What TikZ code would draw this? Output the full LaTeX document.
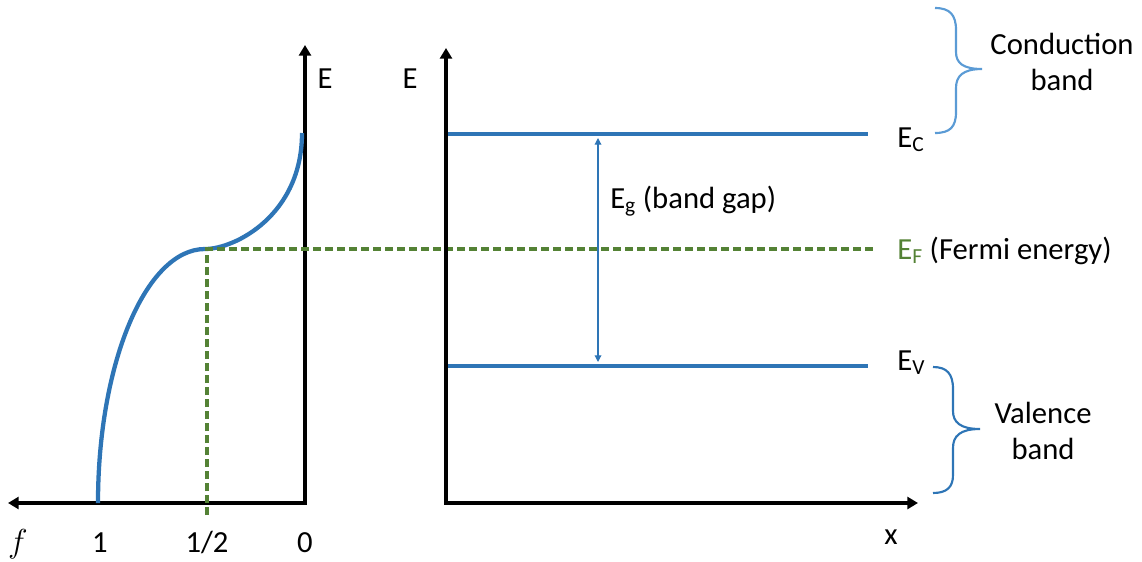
\documentclass[tikz,border=0pt]{standalone}
\usepackage{fontspec}
\setmainfont{Carlito}
\usetikzlibrary{arrows.meta}
\definecolor{bandblue}{HTML}{2E75B6}
\definecolor{braceblue}{HTML}{5B9BD5}
\definecolor{fermigreen}{HTML}{548235}

\begin{document}
\begin{tikzpicture}[x=0.75pt,y=-0.75pt,
	axis/.style={line width=3pt,{Triangle[length=8pt,width=9pt]}-{Triangle[length=8pt,width=9pt]}},
	band/.style={bandblue,line width=2.4pt},
	fermi/.style={fermigreen,line width=2.8pt,dash pattern=on 6pt off 3pt},
	gap/.style={bandblue,line width=0.9pt,{Triangle[length=5pt,width=5pt]}-{Triangle[length=5pt,width=5pt]}},
	lbl/.style={font=\fontsize{23}{27}\selectfont,inner sep=0pt}]
	\useasboundingbox (0,0) rectangle (1142,561);
	% left plot: occupation f(E)
	\coordinate (Etip1) at (305,45);
	\coordinate (O1) at (305,503);
	\coordinate (ftip) at (8,503);
	\coordinate (fone) at (98,503);
	\coordinate (fhalf) at (205,249);
	\coordinate (ftop) at (302,133);
	\coordinate (halfdown) at (207,515);
	\coordinate (halfup) at (207,249);
	\coordinate (EFend) at (875,249);
	\draw[axis] (Etip1) -- (O1) -- (ftip);
	\draw[bandblue,line width=3.2pt] (fone) .. controls (98,363) and (146,249) .. (fhalf)
		.. controls (235,249) and (302,215) .. (ftop);
	\draw[fermi] (halfdown) -- (halfup) -- (EFend);
	\node[lbl] (EL) at (325,79) {E};
	\node[lbl,anchor=base] (fl) at (18,552) {\fontsize{27}{30}\selectfont$f$};
	\node[lbl,anchor=base] (onel) at (100,552) {1};
	\node[lbl,anchor=base] (halfl) at (207,552) {1/2};
	\node[lbl,anchor=base] (zerol) at (305,552) {0};
	% right plot: bands
	\coordinate (Etip2) at (446,48);
	\coordinate (O2) at (446,503);
	\coordinate (xtip) at (918,503);
	\coordinate (EC0) at (448,134);
	\coordinate (EC1) at (868,134);
	\coordinate (EV0) at (448,366);
	\coordinate (EV1) at (868,366);
	\coordinate (gaptop) at (598,138);
	\coordinate (gapbot) at (598,362);
	\draw[axis] (Etip2) -- (O2) -- (xtip);
	\draw[band] (EC0) -- (EC1);
	\draw[band] (EV0) -- (EV1);
	\draw[gap] (gaptop) -- (gapbot);
	\node[lbl] (ER) at (410,79) {E};
	\node[lbl] (xl) at (891,537) {x};
	\node[lbl,anchor=base west] (Egl) at (610,208) {E\textsubscript{g} (band gap)};
	\node[lbl,anchor=base west] (ECl) at (897,147) {E\textsubscript{C}};
	\node[lbl,anchor=base west] (EVl) at (897,370) {E\textsubscript{V}};
	\node[lbl,anchor=base west] (EFl) at (897,259) {\textcolor{fermigreen}{E\textsubscript{F}} (Fermi energy)};
	% braces
	\draw[braceblue,line width=1.6pt] (935,8) .. controls (950,8) and (956,15) .. (956,30) -- (956,52)
		.. controls (956,63) and (963,69) .. (982,69) .. controls (963,69) and (956,76) .. (956,88)
		-- (956,112) .. controls (956,127) and (950,133) .. (935,133);
	\draw[bandblue,line width=1.6pt] (933,367) .. controls (947,367) and (953,374) .. (953,389) -- (953,411)
		.. controls (953,422) and (960,429) .. (980,429) .. controls (960,429) and (953,436) .. (953,448)
		-- (953,475) .. controls (953,487) and (947,493) .. (933,493);
	\node[lbl,align=center] (cbl) at (1062,62) {Conduction\\band};
	\node[lbl,align=center] (vbl) at (1043,431) {Valence\\band};
\end{tikzpicture}
\end{document}
